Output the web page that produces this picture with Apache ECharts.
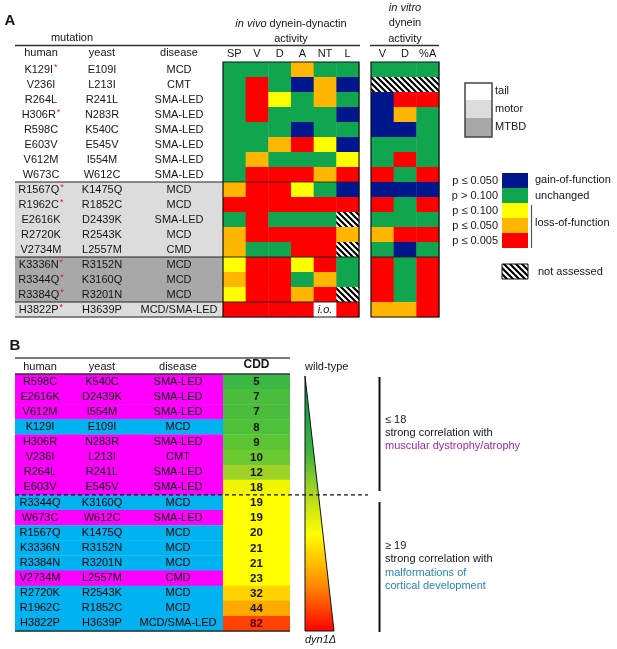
<!DOCTYPE html>
<html>
<head>
<meta charset="utf-8">
<script src="https://cdn.jsdelivr.net/npm/echarts@6/dist/echarts.min.js"></script>
<style>
  html, body { margin: 0; padding: 0; background: #fff; }
  #chart { width: 617px; height: 649px; }
</style>
</head>
<body>
<div id="chart"></div>
<script>
// ---- panel A: mutations ordered by position ----
const humanA = ['K129I', 'V236I', 'R264L', 'H306R', 'R598C', 'E603V', 'V612M', 'W673C',
    'R1567Q', 'R1962C', 'E2616K', 'R2720K', 'V2734M', 'K3336N', 'R3344Q', 'R3384Q', 'H3822P'];
const yeastA = ['E109I', 'L213I', 'R241L', 'N283R', 'K540C', 'E545V', 'I554M', 'W612C',
    'K1475Q', 'R1852C', 'D2439K', 'R2543K', 'L2557M', 'R3152N', 'K3160Q', 'R3201N', 'H3639P'];
const diseaseA = ['MCD', 'CMT', 'SMA-LED', 'SMA-LED', 'SMA-LED', 'SMA-LED', 'SMA-LED', 'SMA-LED',
    'MCD', 'MCD', 'SMA-LED', 'MCD', 'CMD', 'MCD', 'MCD', 'MCD', 'MCD/SMA-LED'];
const starA = [1, 0, 0, 1, 0, 0, 0, 0, 1, 1, 0, 0, 0, 1, 1, 1, 1];
const domainA = ['tail', 'tail', 'tail', 'tail', 'tail', 'tail', 'tail', 'tail',
    'motor', 'motor', 'motor', 'motor', 'motor', 'MTBD', 'MTBD', 'MTBD', 'motor'];

// B = gain, G = unchanged, Y = p<=0.100, O = p<=0.050, R = p<=0.005, H = not assessed, I = i.o.
const vivoCols = ['SP', 'V', 'D', 'A', 'NT', 'L'];
const vivoCalls = ['GGGOGG', 'GRGBOB', 'GRYGOG', 'GRGGGB', 'GGGBGG', 'GGORYB', 'GOGGGY', 'GRRROR',
    'ORRYGB', 'RRRRRR', 'GRGGGH', 'ORRRRO', 'OGGRRH', 'YRRYRG', 'ORRGOG', 'YRRORH', 'RRRRIR'];
const vitroCols = ['V', 'D', '%A'];
const vitroCalls = ['GGG', 'HHH', 'BRR', 'BOG', 'BBG', 'GGG', 'GRG', 'RGR',
    'BBB', 'RGR', 'GGG', 'ORR', 'GBG', 'RGR', 'RGR', 'RGR', 'OOR'];

const pLabels = ['p ≤ 0.050', 'p > 0.100', 'p ≤ 0.100', 'p ≤ 0.050', 'p ≤ 0.005'];
const pCodes = ['B', 'G', 'Y', 'O', 'R'];

// ---- panel B: ordered by CDD ----
const humanB = ['R598C', 'E2616K', 'V612M', 'K129I', 'H306R', 'V236I', 'R264L', 'E603V',
    'R3344Q', 'W673C', 'R1567Q', 'K3336N', 'R3384N', 'V2734M', 'R2720K', 'R1962C', 'H3822P'];
const yeastB = ['K540C', 'D2439K', 'I554M', 'E109I', 'N283R', 'L213I', 'R241L', 'E545V',
    'K3160Q', 'W612C', 'K1475Q', 'R3152N', 'R3201N', 'L2557M', 'R2543K', 'R1852C', 'H3639P'];
const diseaseB = ['SMA-LED', 'SMA-LED', 'SMA-LED', 'MCD', 'SMA-LED', 'CMT', 'SMA-LED', 'SMA-LED',
    'MCD', 'SMA-LED', 'MCD', 'MCD', 'MCD', 'CMD', 'MCD', 'MCD', 'MCD/SMA-LED'];
const cdd = [5, 7, 7, 8, 9, 10, 12, 18, 19, 19, 20, 21, 21, 23, 32, 44, 82];

// ---- styles ----
const FONT = '"Liberation Sans", Arial, Helvetica, sans-serif';
const INK = '#151515';
const statusColor = { B: '#00168c', G: '#10a650', Y: '#ffff00', O: '#ffb600', R: '#ff0000', I: '#ffffff' };
const domainFill = { tail: '#ffffff', motor: '#dcdcdc', MTBD: '#a8a8a8' };
const A_COLS = [26, 87, 164];   // text centres inside the 208 px label block
const B_COLS = [25, 87, 163];
const ROW_TOP_A = 62, ROW_H_A = 15;

function hatchPattern() {
    const n = 6;
    const c = document.createElement('canvas');
    c.width = n; c.height = n;
    const g = c.getContext('2d');
    g.fillStyle = '#fff';
    g.fillRect(0, 0, n, n);
    g.strokeStyle = '#000';
    g.lineWidth = 2.1;
    g.beginPath();
    g.moveTo(-1, -1); g.lineTo(n + 1, n + 1);
    g.moveTo(n - 1, -1); g.lineTo(n + 1, 1);
    g.moveTo(-1, n - 1); g.lineTo(1, n + 1);
    g.stroke();
    return { image: c, repeat: 'repeat' };
}
const HATCH = hatchPattern();

function cddColor(v) {
    if (v <= 5) return '#3cb845';
    if (v <= 7) return '#4abd3d';
    if (v <= 8) return '#4fc03a';
    if (v <= 9) return '#5ac435';
    if (v <= 10) return '#6bca30';
    if (v <= 12) return '#9cd326';
    if (v <= 18) return '#f0f500';
    if (v <= 23) return '#ffff00';
    if (v <= 32) return '#ffd200';
    if (v <= 44) return '#ffa900';
    return '#ff4200';
}
function rowColorB(d) {
    return d.indexOf('MCD') === 0 ? '#00b2f0' : '#ff00ff';
}

function txt(x, y, s, o) {
    return {
        type: 'text', x: x, y: y, z: 60, silent: true,
        style: Object.assign({
            text: s, fill: INK, fontSize: 11, fontFamily: FONT,
            align: 'center', verticalAlign: 'middle',
            textAlign: 'center', textVerticalAlign: 'middle'
        }, o || {})
    };
}
function line(x1, y1, x2, y2, o) {
    return {
        type: 'line', z: 70, silent: true,
        shape: { x1: x1, y1: y1, x2: x2, y2: y2 },
        style: Object.assign({ stroke: '#222', lineWidth: 1.2 }, o || {})
    };
}
function rect(x, y, w, h, fill, o) {
    return {
        type: 'rect', z: 55, silent: true,
        shape: { x: x, y: y, width: w, height: h },
        style: Object.assign({ fill: fill }, o || {})
    };
}

// status cells drawn through the category axes
function cellSeries(axis, calls) {
    const codes = [];
    const data = [];
    calls.forEach(function (row, r) {
        row.split('').forEach(function (code, c) {
            codes.push(code);
            data.push([c, r]);
        });
    });
    return {
        type: 'custom', xAxisIndex: axis, yAxisIndex: axis, silent: true,
        data: data,
        renderItem: function (params, api) {
            const code = codes[params.dataIndex];
            const p = api.coord([api.value(0), api.value(1)]);
            const s = api.size([1, 1]);
            const cell = {
                type: 'rect',
                shape: { x: p[0] - s[0] / 2, y: p[1] - s[1] / 2, width: s[0] + 0.4, height: s[1] + 0.4 },
                style: { fill: code === 'H' ? HATCH : statusColor[code] }
            };
            if (code !== 'I') return cell;
            return {
                type: 'group', children: [cell, {
                    type: 'text', x: p[0], y: p[1],
                    style: { text: 'i.o.', fill: INK, fontSize: 11, fontStyle: 'italic', fontFamily: FONT,
                        align: 'center', verticalAlign: 'middle' }
                }]
            };
        }
    };
}

// label block: row background + three text columns
function labelSeries(axis, human, yeast, disease, cols, bgFor, starFor, ink) {
    return {
        type: 'custom', xAxisIndex: axis, yAxisIndex: axis, silent: true,
        data: human.map(function (_, i) { return [0, i]; }),
        renderItem: function (params, api) {
            const i = params.dataIndex;
            const cs = params.coordSys;
            const yc = api.coord([0, i])[1];
            const h = api.size([0, 1])[1];
            const xs = cols.map(function (v) { return api.coord([v, i])[0]; });
            const base = { fill: ink, fontSize: 11, fontFamily: FONT, align: 'center', verticalAlign: 'middle' };
            const hs = starFor(i)
                ? Object.assign({}, base, {
                    text: '{n|' + human[i] + '}{s|*}',
                    rich: { n: { fontSize: 11, fontFamily: FONT, fill: ink },
                        s: { fontSize: 9, fontFamily: FONT, fill: '#e8141e', verticalAlign: 'top', padding: [0, 0, 3, 1] } }
                })
                : Object.assign({}, base, { text: human[i] });
            return {
                type: 'group', children: [
                    { type: 'rect', shape: { x: cs.x, y: yc - h / 2, width: cs.width, height: h + 0.4 },
                        style: { fill: bgFor(i) } },
                    { type: 'text', x: xs[0], y: yc, style: hs },
                    { type: 'text', x: xs[1], y: yc, style: Object.assign({}, base, { text: yeast[i] }) },
                    { type: 'text', x: xs[2], y: yc, style: Object.assign({}, base, { text: disease[i] }) }
                ]
            };
        }
    };
}

function cddSeries(axis) {
    return {
        type: 'custom', xAxisIndex: axis, yAxisIndex: axis, silent: true,
        data: cdd.map(function (v, i) { return [0, i, v]; }),
        renderItem: function (params, api) {
            const v = api.value(2);
            const p = api.coord([0, api.value(1)]);
            const s = api.size([1, 1]);
            return {
                type: 'group', children: [
                    { type: 'rect', shape: { x: p[0] - s[0] / 2, y: p[1] - s[1] / 2, width: s[0], height: s[1] + 0.4 },
                        style: { fill: cddColor(v) } },
                    { type: 'text', x: p[0], y: p[1] + 0.5,
                        style: { text: String(v), fill: v > 44 ? '#5a0000' : '#141400', fontSize: 11.5, fontWeight: 'bold',
                            fontFamily: FONT, align: 'center', verticalAlign: 'middle' } }
                ]
            };
        }
    };
}

const hiddenValueX = function (g) {
    return { gridIndex: g, type: 'value', min: 0, max: 208, show: false };
};
const topCatX = function (g, data, bold) {
    return {
        gridIndex: g, type: 'category', data: data, position: 'top',
        axisLine: { show: false }, axisTick: { show: false }, splitLine: { show: false },
        axisLabel: { margin: 3, fontSize: bold ? 12 : 11, fontWeight: bold ? 'bold' : 'normal',
            color: INK, fontFamily: FONT, interval: 0 }
    };
};
const hiddenCatY = function (g, data) {
    return { gridIndex: g, type: 'category', data: data, inverse: true, show: false };
};

// ---- decorations ----
const yA = function (k) { return ROW_TOP_A + ROW_H_A * k; };
const B_TOP = 374, B_H = 257;
const yB = function (k) { return B_TOP + B_H / 17 * k; };

const graphics = [
    txt(10, 21, 'A', { fontSize: 15, fontWeight: 'bold' }),
    txt(72, 38, 'mutation'),
    txt(291, 24, '{i|in vivo} dynein-dynactin', {
        rich: { i: { fontStyle: 'italic', fontSize: 11, fontFamily: FONT, fill: INK } }
    }),
    txt(291, 39, 'activity'),
    line(15, 45.5, 360, 45.5, { lineWidth: 1.5, stroke: '#333' }),
    txt(41, 53, 'human'), txt(102, 53, 'yeast'), txt(179, 53, 'disease'),
    txt(405, 8, 'in vitro', { fontStyle: 'italic' }),
    txt(405, 23, 'dynein'),
    txt(405, 39, 'activity'),
    line(370, 45.5, 439, 45.5, { lineWidth: 1.5, stroke: '#333' }),

    // domain separators
    line(15, yA(8), 223, yA(8)), line(223, yA(8), 359, yA(8), { lineWidth: 0.8 }),
    line(15, yA(13), 359, yA(13)),
    line(15, yA(16), 359, yA(16)),
    line(15, yA(17), 223, yA(17)),
    line(371, yA(13), 439, yA(13)),
    { type: 'rect', z: 72, silent: true, shape: { x: 223, y: yA(0), width: 136, height: yA(17) - yA(0) },
        style: { fill: 'none', stroke: '#111', lineWidth: 1.2 } },
    { type: 'rect', z: 72, silent: true, shape: { x: 371, y: yA(0), width: 68, height: yA(17) - yA(0) },
        style: { fill: 'none', stroke: '#111', lineWidth: 1.2 } },

    // domain legend
    rect(465, 83, 27, 17, domainFill.tail),
    rect(465, 100, 27, 18, domainFill.motor),
    rect(465, 118, 27, 19, domainFill.MTBD),
    { type: 'rect', z: 72, silent: true, shape: { x: 465, y: 83, width: 27, height: 54 },
        style: { fill: 'none', stroke: '#444', lineWidth: 1.5 } },
    txt(495, 91, 'tail', { align: 'left', textAlign: 'left' }),
    txt(495, 109, 'motor', { align: 'left', textAlign: 'left' }),
    txt(495, 127, 'MTBD', { align: 'left', textAlign: 'left' }),

    // significance legend
    txt(535, 180, 'gain-of-function', { align: 'left', textAlign: 'left' }),
    txt(535, 196, 'unchanged', { align: 'left', textAlign: 'left' }),
    txt(535, 223, 'loss-of-function', { align: 'left', textAlign: 'left' }),
    line(531.5, 205, 531.5, 248, { stroke: '#555', lineWidth: 1.2 }),
    rect(502, 264, 26, 15, HATCH, { stroke: '#111', lineWidth: 1 }),
    txt(538, 272, 'not assessed', { align: 'left', textAlign: 'left' }),

    // panel B frame
    txt(15, 346, 'B', { fontSize: 15, fontWeight: 'bold' }),
    line(15, 358, 290, 358, { stroke: '#7a7a7a', lineWidth: 2 }),
    txt(40, 367, 'human'), txt(102, 367, 'yeast'), txt(178, 367, 'disease'),
    line(15, B_TOP, 290, B_TOP, { stroke: '#333', lineWidth: 1.5 }),
    line(15, yB(17), 290, yB(17), { stroke: '#333', lineWidth: 1.5 }),
    line(15, yB(8), 368, yB(8), { stroke: '#111', lineWidth: 1.2, lineDash: [4, 3] }),

    // severity wedge
    {
        type: 'polygon', z: 55, silent: true,
        shape: { points: [[305, 376], [305, 631], [334, 631]] },
        style: {
            fill: new echarts.graphic.LinearGradient(0, 0, 0, 1, [
                { offset: 0, color: '#00904a' },
                { offset: 0.3, color: '#3db53c' },
                { offset: 0.5, color: '#c6e016' },
                { offset: 0.62, color: '#ffff00' },
                { offset: 0.82, color: '#ff8a00' },
                { offset: 1, color: '#ff0000' }
            ]),
            stroke: '#111', lineWidth: 1
        }
    },
    txt(305, 367, 'wild-type', { align: 'left', textAlign: 'left' }),
    txt(305, 640, 'dyn1Δ', { align: 'left', textAlign: 'left', fontStyle: 'italic' }),

    line(379.5, 377, 379.5, 491, { stroke: '#111', lineWidth: 2 }),
    line(379.5, 502, 379.5, 632, { stroke: '#111', lineWidth: 2 }),
    txt(385, 420, '≤ 18', { align: 'left', textAlign: 'left' }),
    txt(385, 433, 'strong correlation with', { align: 'left', textAlign: 'left' }),
    txt(385, 446, 'muscular dystrophy/atrophy', { align: 'left', textAlign: 'left', fill: '#a524b3' }),
    txt(385, 546, '≥ 19', { align: 'left', textAlign: 'left' }),
    txt(385, 559, 'strong correlation with', { align: 'left', textAlign: 'left' }),
    txt(385, 573, 'malformations of', { align: 'left', textAlign: 'left', fill: '#2587b3' }),
    txt(385, 586, 'cortical development', { align: 'left', textAlign: 'left', fill: '#2587b3' })
];

pCodes.forEach(function (code, k) {
    graphics.push(rect(502, 173 + 15 * k, 26, 15, statusColor[code]));
    graphics.push(txt(498, 181 + 15 * k, pLabels[k], { align: 'right', textAlign: 'right' }));
});

const chart = echarts.init(document.getElementById('chart'));
chart.setOption({
    animation: false,
    backgroundColor: '#fff',
    textStyle: { fontFamily: FONT },
    grid: [
        { left: 15, top: ROW_TOP_A, width: 208, height: ROW_H_A * 17 },
        { left: 223, top: ROW_TOP_A, width: 136, height: ROW_H_A * 17 },
        { left: 371, top: ROW_TOP_A, width: 68, height: ROW_H_A * 17 },
        { left: 15, top: B_TOP, width: 208, height: B_H },
        { left: 223, top: B_TOP, width: 67, height: B_H }
    ],
    xAxis: [
        hiddenValueX(0),
        topCatX(1, vivoCols),
        topCatX(2, vitroCols),
        hiddenValueX(3),
        topCatX(4, ['CDD'], true)
    ],
    yAxis: [
        hiddenCatY(0, humanA), hiddenCatY(1, humanA), hiddenCatY(2, humanA),
        hiddenCatY(3, humanB), hiddenCatY(4, humanB)
    ],
    series: [
        labelSeries(0, humanA, yeastA, diseaseA, A_COLS,
            function (i) { return domainFill[domainA[i]]; },
            function (i) { return starA[i] === 1; }, INK),
        cellSeries(1, vivoCalls),
        cellSeries(2, vitroCalls),
        labelSeries(3, humanB, yeastB, diseaseB, B_COLS,
            function (i) { return rowColorB(diseaseB[i]); },
            function () { return false; }, '#000'),
        cddSeries(4)
    ],
    graphic: { elements: graphics }
});
</script>
</body>
</html>
